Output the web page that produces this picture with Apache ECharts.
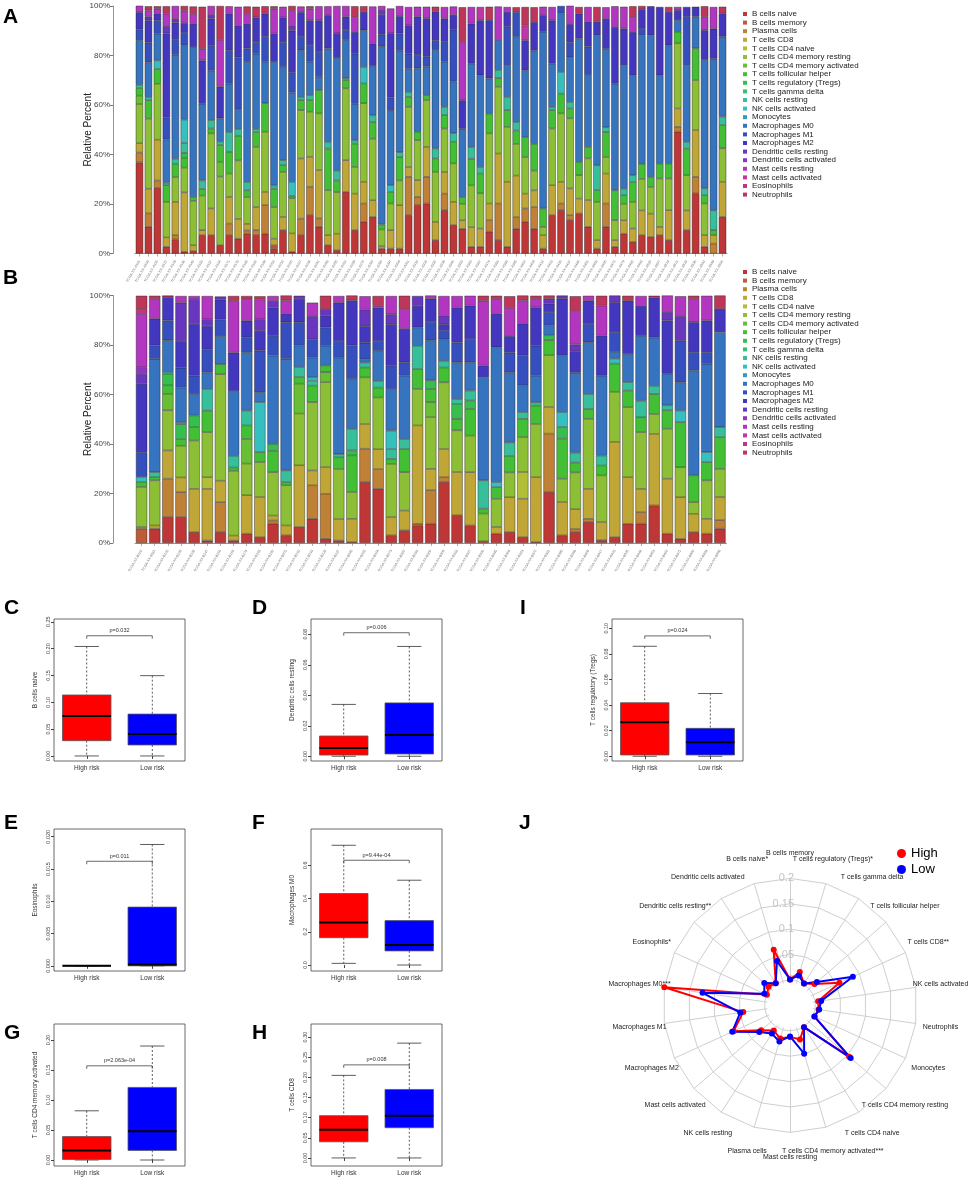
<!DOCTYPE html>
<html><head><meta charset="utf-8">
<script src="https://cdn.jsdelivr.net/npm/echarts@6.0.0/dist/echarts.min.js"></script>
<style>html,body{margin:0;padding:0;background:#fff}#c{width:969px;height:1190px}</style>
</head><body><div id="c"></div>
<script>
// ---------------- DATA ----------------
const cellTypes = ['B cells naive','B cells memory','Plasma cells','T cells CD8','T cells CD4 naive','T cells CD4 memory resting','T cells CD4 memory activated','T cells follicular helper','T cells regulatory (Tregs)','T cells gamma delta','NK cells resting','NK cells activated','Monocytes','Macrophages M0','Macrophages M1','Macrophages M2','Dendritic cells resting','Dendritic cells activated','Mast cells resting','Mast cells activated','Eosinophils','Neutrophils'];

// Panel A (66 samples), relative percent per cell type
const A_Bn = [36.8,10.8,26.5,2.7,5.7,0.7,1,7.4,7.4,3.4, 7.4,6,8,7.4,8,2,9.4,0.7,7.4,15.5, 10.8,3.4,1.3,24.9,9.4,12.8,14.8,2,2,2, 15.5,19.5,20.2,5.4,17.5,11.5,10,2.7,2.7,8.8, 5.4,2.7,10,12.8,10,2,15.5,17.5,13.5,16.2, 10.8,2,10.8,2.7,8,4.7,7.4,6.7,7.4,5.4, 49.2,9.4,24.3,2.7,0,14.8];
const A_Bm = [0,0,0,0,0,0,0,0,0,0, 0,0,0,0,0,1.3,0,0,0,0, 0,0,0,0,0,0,0,0,0,0, 0,0,0,0,0,0,0,0,0,0, 0,0,0,0,0,0,0,0,0,0, 0,0,0,0,0,0,0,0,0,0, 0,0,0,0,0,0];
const A_PC = [4,5.4,3,0,1.7,0,0,0,0,0, 4.7,0,1.3,2,11.5,0,0,0,6.7,11.5, 3.4,0,0,0,0,7.4,0,0,0,0, 15.5,3.4,10.8,0,6.7,0,0,0,0,4.7, 14.8,0,4.7,5.4,8.8,0,0,2.7,2,0, 0,0,9.4,0,0,0,0,0,0,0, 2,0,6.7,0,4,0];
const A_CD8 = [3.8,10,16.5,3.8,13.5,24,2.3,2,10.8,0, 10.8,8,2.7,9.4,5.4,2.7,5.4,7.4,24.3,12.1, 19.5,4,6.7,12.8,14.8,8.8,6.7,1,7.4,17.5, 4,6.7,12.1,7.4,8.8,9.4,3.4,8,7.4,6.7, 20.2,26.3,16.8,6,6.7,5.4,12.1,8.8,10.8,6, 10.8,3.4,12.1,2.7,5.4,5.4,10,9.4,3.4,12.1, 7.4,8,18.9,4.7,3.4,14.2];
const A_CD4n = [0,0,0,0,0,0,0,0,0,0, 0,0,0,0,0,0,0,0,0,0, 0,0,0,0,0,0,0,0,0,0, 0,0,0,0,0,0,0,0,0,0, 0,0,0,0,0,0,0,0,0,0, 0,0,0,0,0,0,0,0,0,0, 0,0,0,0,0,0];
const A_CD4mr = [15.8,28.3,22.6,14.4,10,10,18,14,30.3,27.7, 9.4,23.6,10.8,24.3,24.3,12.8,18.2,14.2,19.5,18.2, 22.9,18.2,16.8,29,10.8,31.7,24.9,6.7,10.8,10, 24.3,16.2,18.9,20.2,17.5,15.5,6.7,16.8,14.2,28.3, 27,22.2,12.8,14.8,8,3.4,22.9,27.6,28.3,9.4, 16.8,15.5,6.7,8,6.7,10.8,12.8,10.8,19.5,12.8, 26.3,14.2,20.2,12.8,0,13.5];
const A_CD4ma = [3.4,0,0,0,0,0,0,0,0,6, 0,0,0,0,0,0,0,0,0,0, 0,0,0,0,0,0,0,0,0,0, 0,0,0,0,0,0,0,0,0,0, 0,0,0,0,0,0,0,0,0,0, 0,0,0,0,0,0,0,0,0,0, 0,0,0,0,0,0];
const A_Tfh = [3.1,7.4,6,6.7,5.4,4,1.5,2.7,2,6.8, 8.8,10,2.7,6,11.5,7.4,2.7,1,4,4.7, 9.4,16.8,4.7,3.4,9.4,8,6.7,2,4.7,9.4, 4,3.4,2,5.4,5.4,8.8,2.7,10.8,8,8, 3.4,6.7,5.4,8,10.8,7.4,7.4,8,4,5.4, 4.7,4.7,10,12.1,3.4,8,6,4,6,6, 4.7,10.8,12.8,3.4,2,9.4];
const A_Treg = [0,0,0,0,0,2,0,0,0,0, 0,0,0,0,0,0,0,0,0,0, 0,0,0,0,0,0,0,0,0,0, 0,0,0,0,0,0,0,0,0,0, 0,0,0,0,0,0,0,0,0,0, 0,0,0,0,0,0,0,0,0,0, 0,0,0,0,0,0];
const A_Tgd = [0,0,0,0,0,0,0,0,0,0, 0,0,0,0,0,0,0,0,0,0, 0,0,0,0,0,0,0,0,0,0, 0,0,0,0,0,0,0,0,0,0, 0,0,0,0,0,0,0,0,0,0, 0,0,0,0,0,0,0,0,0,0, 0,0,0,0,0,0];
const A_NKr = [1.3,1.3,0,1,2,4,0,3.4,3.4,1.3, 8,2.7,3.4,1.3,0,1.3,2,0,1.3,2, 0,2.7,4,0.7,1.3,0,2.7,0,0,2, 2,0,0,4,3.4,3.4,0,4.7,2.7,0, 3.4,5.4,3.4,0,0,0,1.3,0,2.7,0, 0,10,2,0,2.7,2.7,0,0,0,0, 0,2.7,0,2.7,8,3.4];
const A_NKa = [0,0,3.4,0,0,9.4,0,0,0,0, 0,0,0,0,0,0,0,5.7,0,0, 0,0,0,0,0,6.7,0,0,2.7,0, 0,0,0,0,0,0,0,0,0,0, 0,0,0,0,0,0,0,8.8,0,0, 0,0,0,0,0,0,0,0,0,0, 0,0,0,0,0,0];
const A_Mono = [0,0,0,0,0,0,0,0,0,0, 0,0,0,0,0,0,0,0,0,0, 0,0,0,0,0,0,0,0,0,0, 0,0,0,0,0,0,0,0,0,0, 0,0,0,0,0,0,0,0,0,0, 0,0,0,0,0,0,0,0,0,0, 0,0,0,0,0,0];
const A_M0 = [18,14,10.8,17.5,42,30,60.6,31,20,9.4, 19.5,8,48.5,30.3,16.8,49.9,37.7,36,18.9,13.5, 5.4,37.7,45.5,15.5,14.8,14.8,20,72,30,41, 9.4,25.6,11.5,39.8,18.2,20.9,27.6,33.7,37,14.2, 12.1,12.8,34.4,27,37.7,71.4,17.5,23.6,18,49.9, 29,52.6,31.7,43.1,49.9,40.4,52,57.3,35.7,47.8, 4.7,31,12.8,51.9,61.3,32.3];
const A_M1 = [4.3,8,5.4,8.8,6,5,0,0,10,0, 13.5,20.9,5.4,4.7,10,0,10,8,5.4,6.7, 10,0,0,4,20.2,0,0,4.7,5.4,7, 6,5.4,4,4,8,20.9,0,0,0,0, 0,15.5,10,0,0,0,0,3,6,0, 11.5,0,0,0,0,0,2.5,0,0,0, 0,19.5,0,0,0,0];
const A_M2 = [7,9,2.7,34,7,4,9.4,17.5,11,12.8, 14.8,12.8,10,10,9.4,11.5,10,17,10,10, 12.8,13.5,10,5.4,8.8,7.4,9,8,26,7, 11.5,15.5,15.5,11.5,9.4,6,11.5,16.2,22.2,23.6, 0,6,0,12.1,11.5,6.7,17.5,0,7.4,10, 10,5.4,12.1,22.9,14.8,17.5,8,11.7,27.6,13.5, 4,4,4,12,12.1,9.4];
const A_DCr = [0,1.5,0,3,1.5,0,0,0,1.5,0, 0,0,0,0,0,0,0,2,0,0, 0,0,0,0,0,0,0,2,0,0, 0,0,0,0,0,0,0,0,0,0, 0,0,0,0,0,0,0,0,0,0, 0,0,0,0,0,0,0,0,0,0, 0,0,0,0,0,0];
const A_DCa = [0,0,0,0,0,0,0,0,0,0, 0,0,0,0,0,0,0,0,0,0, 0,0,0,0,0,0,0,0,0,0, 0,0,0,0,0,0,0,0,0,0, 0,0,0,0,0,0,0,0,0,0, 0,0,0,0,0,0,0,0,0,0, 0,0,0,0,0,0];
const A_MastR = [2.7,2.5,2,5,5.2,5,4,4.7,3.6,18.9, 3,7.7,4,0,0,10,4.3,6,2.3,4.7, 5.7,3.6,11,4.3,6,0,15,1.6,10,4.1, 7.4,4,4.7,0,4.7,3.4,23.6,6.7,0,0, 13.5,2,0,0,0,3.4,5.4,0,7.4,0, 6,0,4.7,8.4,8.8,6,0,0,0,0, 1.3,0,0,5.4,8.8,0];
const A_MastA = [0,0,0,0,0,0,0,0,0,0, 0,0,0,0,0,0,0,0,0,0, 0,0,0,0,0,0,0,0,0,0, 0,0,0,0,0,0,0,0,5.4,0, 0,0,0,6,0,0,0,0,0,0, 0,0,0,0,0,0,0,0,0,0, 0,0,0,0,0,0];
const A_Eos = [0,0,0,0,0,0,0,0,0,0, 0,0,0,0,0,0,0,0,0,0, 0,0,0,0,0,0,0,0,0,0, 0,0,0,0,0,0,0,0,0,0, 0,0,0,0,0,0,0,0,0,0, 0,0,0,0,0,0,0,0,0,0, 0,0,0,0,0,0];
const A_Neut = [0,1.7,1,3,0,1.9,3,17,0,13.7, 0,0,3,4.3,3,1,0,2,0,1, 0,0,0,0,4.4,2.3,0,0,0,0, 0,0,0,2,0,0,14,0,0,5.4, 0,0,2,7.5,6,0,0,0,0,2.7, 0,6,0,0,0,4.4,1.3,0,0,2, 0,0,0,4.3,0,2.7];

// Panel B (45 samples)
const B_Bn = [0,5.8,10.5,10.5,4.4,1,4.4,1,3.8,2.4, 7.8,3.1,6.5,9.8,1.7,1,0.4,24.6,21.9,3.1, 5.1,7.1,7.8,24.6,11.2,7.1,0.7,3.8,4.4,2.4, 0.4,20.6,3.1,4.4,8.5,1.1,2.4,7.8,7.8,15.2, 3.8,1.7,4.4,3.8,5.8];
const B_Bm = [5.8,0,0,0,0,0,0,0,0,0, 0,0,0,0,0,0,0,0,0,0, 0,0,0,0,0,0,0,0,0,0, 0,0,0,0,0,0,0,0,0,0, 0,0,0,0,0];
const B_PC = [0,0,15.5,10,0,0,12.1,0,0,0, 1.3,0,0,13.5,18.2,0,0,13.5,8,0, 0,0.7,13.5,2,0,0,0,0,0,0, 0,23.6,0,1.3,1.3,0,0,0,4.7,0, 0,0,0,0,3.4];
const B_CD8 = [0.7,1.3,11.4,6,17.5,20.9,8.7,2,15.5,16.2, 2,4,24.9,6,10.8,8.7,9.4,10,8,7.4, 8,39.7,8.7,11.4,17.5,21.5,0,2.7,14.1,15.5, 26.2,10.8,13.5,8,12.1,7.4,38.5,18.8,9.4,28.9, 22.2,16.8,7.4,6,9.4];
const B_CD4n = [0,0,0,0,0,4.7,0,0,0,0, 0,0,0,0,0,0,0,0,0,0, 0,0,0,0,0,0,0,0,0,10.8, 0,0,0,0,0,0,0,0,0,0, 0,0,0,0,0];
const B_CD4mr = [16.2,18.2,16.2,12.8,19.5,18.2,43,26.2,12.8,14.1, 17.5,16.2,20.9,27.6,34.3,20.2,10.8,18.8,20.9,21.5, 15.5,14.8,20.9,26.9,16.8,14.8,11.2,11.4,10,14.1, 21.5,20.9,9.4,14.8,28.3,18.8,20.2,28.3,22.9,8, 20.2,12.1,4.7,15.5,11.4];
const B_CD4ma = [0,0,6.7,0,0,0,0,0,10,0, 0,0,12.1,0,4,0,0,0,0,0, 0,0,6,0,0,0,0,0,0,0, 0,0,0,0,0,0,0,0,0,0, 0,0,0,0,0];
const B_Tfh = [2,1.3,3.4,2.7,5.4,8.7,4,1.3,5.4,4, 8.7,1.3,2.7,6.7,2.7,4.7,14.8,4,4,2, 9.4,8,5.4,6,4.7,10.8,2,4.7,6.7,7.4, 7.4,6,16.2,4,4,4,11.4,6.7,6,8, 7.4,18.2,10.8,7.4,12.8];
const B_Treg = [0,0,4.7,6,4.7,0,0,0,0,0, 2.7,0,0,0,0,0,2,0,0,0, 0,0,3.4,0,6,3.4,0,0,0,0, 0,2,4.7,0,0,0,0,0,0,0, 0,0,0,0,0];
const B_Tgd = [0,0,0,0,0,0,0,0,0,0, 0,0,0,0,0,0,0,0,0,0, 0,0,0,0,0,0,0,0,0,0, 0,0,0,0,0,0,0,0,0,0, 0,0,0,0,0];
const B_NKr = [0,2,0,0,0,8.7,0,4.7,6,0, 0,4.7,4,2,0,1.3,8.7,2,2.7,4, 4,9.4,0,2.7,2,4,11.4,0,5.4,2.7, 1.3,0,0,4,6,4,0,3.4,6.7,3.4, 2,0,0,0,4];
const B_NKa = [2,0,0.7,0.7,0,0,0,0,0,20.2, 0,0,0,1.3,0,0,0,0,0,7.4, 0,0,0,0,0,0,0,2,0,0, 0,0,6,0,0,0,2,0,0,0, 0,4.7,0,4,0];
const B_Mono = [0,0,0,0,0,0,0,0,0,0, 0,0,0,0,0,0,0,0,0,0, 0,0,0,0,0,0,0,0,0,0, 0,0,0,0,0,0,0,0,0,0, 0,0,0,0,0];
const B_M0 = [0,45.8,12.8,14.1,8.7,6.7,11.4,26.2,23.6,4, 35.7,45.1,8.7,8,8,39,20.2,1.3,12.1,16.8, 25.6,7.4,16.2,8.7,14.8,11.4,41.7,54.5,28.3,10.8, 10.8,4,22.9,32.3,20.9,32.3,2.7,11.4,26.2,19.5, 12.8,11.4,42.4,35.7,38.4];
const B_M1 = [10,5.4,8,8,7.4,9.4,6.7,0,6,16.8, 8,14.8,9.4,7.4,7.4,6.7,13.5,6.7,4,9.4, 5.4,0,7.4,3.4,8,9.4,0,0,8,12.1, 12.1,5.4,0,0,7.4,0,8,0,0,0, 0,16.8,7.4,4.7,0];
const B_M2 = [27.6,10.8,9.4,10.8,20.9,9.4,8,15.5,6.7,8, 11.4,3.4,9.4,0,4.7,15.5,18.2,6.7,13.5,16.8, 13.5,8.7,9.4,2.7,14.1,13.5,4.7,13.5,6.7,12.8, 15.5,3.4,22.9,8.7,9.4,16.2,12.1,21.5,12.1,16.2, 21.5,0,12.1,12.8,9.4];
const B_DCr = [4,0,0,15.5,10,2.7,1.3,0,0,4.7, 2.7,0,1.3,9.4,2.7,0,0,6.7,0,4, 0,4,0,3.4,0,0,0,0,0,0, 0,2,1.3,2.7,0,0,2.7,0,0,0, 3.4,10,0,0,0];
const B_DCa = [2.7,0,0,0,0,0,0,0,0,0, 0,0,0,0,0,0,0,0,0,0, 0,0,0,0,0,0,0,0,0,0, 0,0,0,0,0,0,0,0,0,0, 0,0,0,0,0];
const B_MastR = [21.5,8,0,2.7,1.3,9.4,0,20.9,8.7,8, 2,5.4,0,5.4,0,2.7,0,5.4,0.7,7.4, 8,0,1.3,8,4.7,4,26.2,6,11.4,9.4, 3.4,0,0,13.5,2,12.1,0,0,4,0, 6.7,8,9.4,10,0];
const B_MastA = [0,0,0,0,0,0,0,0,0,0, 0,0,0,0,0,0,0,0,0,0, 0,0,0,0,0,0,0,0,0,0, 0,0,0,0,0,0,0,0,0,0, 0,0,0,0,0];
const B_Eos = [2,0,0,0,0,0,0,0,0,0, 0,0,0,0,0,0,0,0,0,0, 0,0,0,0,0,0,0,0,0,0, 0,0,0,0,0,0,0,0,0,0, 0,0,0,0,0];
const B_Neut = [5.4,1.3,0.7,0,0,0,0,2,1.3,1.3, 0,2,0,0,5.4,0,2,0,4,0, 5.4,0,0,0,0,0,2,1.3,4.7,2, 1.3,1.3,0,6,0,4,0,2,0,0.7, 0,0,1.3,0,5.4];

const percentTicks = [0, 20, 40, 60, 80, 100];

// Box plots: [min, Q1, median, Q3, max] for High risk / Low risk
const riskGroups = ['High risk', 'Low risk'];
const cHigh = [0, 0.0285, 0.0745, 0.1136, 0.204], cLow = [0, 0.0205, 0.041, 0.078, 0.1496];
const dHigh = [0, 0.0008, 0.0054, 0.0133, 0.034], dLow = [0, 0.0015, 0.014, 0.035, 0.072];
const iHigh = [0, 0.001, 0.0265, 0.0418, 0.0859], iLow = [0, 0.001, 0.011, 0.0218, 0.049];
const eHigh = [0, 0, 0, 0, 0], eLow = [0, 0, 0.0002, 0.0091, 0.0188];
const fHigh = [0.01, 0.164, 0.255, 0.43, 0.72], fLow = [0, 0.085, 0.121, 0.267, 0.51];
const gHigh = [0, 0.001, 0.016, 0.039, 0.082], gLow = [0, 0.016, 0.048, 0.121, 0.19];
const hHigh = [0, 0.04, 0.07, 0.105, 0.205], hLow = [0, 0.075, 0.105, 0.17, 0.285];
const cTicks = [0, 0.05, 0.10, 0.15, 0.20, 0.25];
const dTicks = [0, 0.02, 0.04, 0.06, 0.08];
const iTicks = [0, 0.02, 0.04, 0.06, 0.08, 0.10];
const eTicks = [0, 0.005, 0.010, 0.015, 0.020];
const fTicks = [0, 0.2, 0.4, 0.6];
const gTicks = [0, 0.05, 0.10, 0.15, 0.20];
const hTicks = [0, 0.05, 0.10, 0.15, 0.20, 0.25, 0.30];
const pLabels = ['p=0.032', 'p=0.006', 'p=0.024', 'p=0.011', 'p=9.44e-04', 'p=2.063e-04', 'p=0.008'];
const bracketLevels = [0.224, 0.081, 0.094, 0.0162, 0.63, 0.157, 0.231];
const boxTitles = ['B cells naive', 'Dendritic cells resting', 'T cells regulatory (Tregs)', 'Eosinophils', 'Macrophages M0', 'T cells CD4 memory activated', 'T cells CD8'];

// Radar (counter-clockwise from top)
const radarNames = ['B cells memory','B cells naive*','Dendritic cells activated','Dendritic cells resting**','Eosinophils*','Macrophages M0***','Macrophages M1','Macrophages M2','Mast cells activated','NK cells resting','Plasma cells','Mast cells resting','T cells CD4 memory activated***','T cells CD4 naive','T cells CD4 memory resting','Monocytes','Neutrophils','NK cells activated','T cells CD8**','T cells follicular helper','T cells gamma delta','T cells regulatory (Tregs)*'];
const radarHigh = [0.001,0.064,0.002,0.006,0.0,0.2,0.043,0.072,0.025,0.009,0.018,0.012,0.020,0.001,0.104,0.003,0.007,0.006,0.057,0.014,0.001,0.0185];
const radarLow  = [0.001,0.041,0.002,0.017,0.0055,0.124,0.049,0.075,0.030,0.016,0.024,0.011,0.049,0.001,0.108,0.003,0.008,0.012,0.086,0.020,0.001,0.0115];

// ---------------- STYLE / LAYOUT ----------------
const FONT = '"Liberation Sans", Arial, Helvetica, sans-serif';
const palette = ['#BF3636','#BF5B36','#BF8136','#BFA636','#B2BF36','#8DBF36','#68BF36','#43BF36','#36BF4F','#36BF74','#36BF9A','#36BFBF','#369ABF','#3674BF','#364FBF','#4336BF','#6836BF','#8D36BF','#B236BF','#BF36A6','#BF3681','#BF365B'];
const seriesA = [A_Bn,A_Bm,A_PC,A_CD8,A_CD4n,A_CD4mr,A_CD4ma,A_Tfh,A_Treg,A_Tgd,A_NKr,A_NKa,A_Mono,A_M0,A_M1,A_M2,A_DCr,A_DCa,A_MastR,A_MastA,A_Eos,A_Neut];
const seriesB = [B_Bn,B_Bm,B_PC,B_CD8,B_CD4n,B_CD4mr,B_CD4ma,B_Tfh,B_Treg,B_Tgd,B_NKr,B_NKa,B_Mono,B_M0,B_M1,B_M2,B_DCr,B_DCa,B_MastR,B_MastA,B_Eos,B_Neut];
const samplesA = A_Bn.map((_, i) => 'TCGA-XX-A' + String(101 + i * 7));
const samplesB = B_Bn.map((_, i) => 'TCGA-XX-B' + String(102 + i * 9));

const grids = [], xAxes = [], yAxes = [], series = [];

function stackPanel(gi, arrs, samples, rect, gap) {
  grids.push({left: rect[0], top: rect[1], width: rect[2], height: rect[3]});
  xAxes.push({gridIndex: gi, type: 'category', data: samples, offset: 4,
    axisLine: {show: true, lineStyle: {color: '#777', width: 0.8}},
    axisTick: {show: true, alignWithLabel: true, length: 3, lineStyle: {color: '#777', width: 0.6}},
    axisLabel: {interval: 0, rotate: 60, fontSize: 3.5, color: '#777', margin: 3, fontFamily: FONT}});
  yAxes.push({gridIndex: gi, type: 'value', min: 0, max: 100, offset: 22,
    axisLine: {show: true, lineStyle: {color: '#777', width: 0.8}},
    axisTick: {show: true, length: 3, customValues: percentTicks, lineStyle: {color: '#777'}},
    axisLabel: {customValues: percentTicks, formatter: '{value}%', fontSize: 8, color: '#444', margin: 3, fontFamily: FONT},
    splitLine: {show: false},
    name: 'Relative Percent', nameLocation: 'middle', nameGap: 20, nameMoveOverlap: false,
    nameTextStyle: {fontSize: 10, color: '#222', fontFamily: FONT}});
  cellTypes.forEach((name, k) => {
    series.push({type: 'bar', name, xAxisIndex: gi, yAxisIndex: gi, stack: 'S' + gi,
      barCategoryGap: gap, data: arrs[k].map(v => v === 0 ? '-' : v),
      itemStyle: {color: palette[k], borderColor: 'rgba(35,35,35,0.85)', borderWidth: 0.5},
      emphasis: {disabled: true}, silent: true});
  });
}
stackPanel(0, seriesA, samplesA, [135, 6, 592, 247.5], '17%');
stackPanel(1, seriesB, samplesB, [135, 295.5, 591.5, 247.5], '14%');

const boxPanels = [
  {high: cHigh, low: cLow, ticks: cTicks, dec: 2, rect: [54, 619], yr: [-0.0094, 0.2552]},
  {high: dHigh, low: dLow, ticks: dTicks, dec: 2, rect: [311, 619], yr: [-0.0031, 0.0900]},
  {high: iHigh, low: iLow, ticks: iTicks, dec: 2, rect: [612, 619], yr: [-0.0037, 0.1072]},
  {high: eHigh, low: eLow, ticks: eTicks, dec: 3, rect: [54, 829], yr: [-0.0008, 0.0212]},
  {high: fHigh, low: fLow, ticks: fTicks, dec: 1, rect: [311, 829], yr: [-0.036, 0.818]},
  {high: gHigh, low: gLow, ticks: gTicks, dec: 2, rect: [54, 1024], yr: [-0.01, 0.2267]},
  {high: hHigh, low: hLow, ticks: hTicks, dec: 2, rect: [311, 1024], yr: [-0.02, 0.3325]}
];
const boxColors = ['#FF0000', '#0000FF'];

function boxRender(params, api) {
  const x = api.value(0);
  const lo = api.coord([x, api.value(1)]), q1 = api.coord([x, api.value(2)]);
  const md = api.coord([x, api.value(3)]), q3 = api.coord([x, api.value(4)]);
  const hi = api.coord([x, api.value(5)]);
  const bw = api.size([1, 0])[0] * 0.74, cx = lo[0];
  const ln = {stroke: '#333', lineWidth: 0.8};
  const dash = {stroke: '#333', lineWidth: 0.8, lineDash: [2, 2]};
  return {type: 'group', children: [
    {type: 'line', shape: {x1: cx, y1: hi[1], x2: cx, y2: q3[1]}, style: dash},
    {type: 'line', shape: {x1: cx, y1: q1[1], x2: cx, y2: lo[1]}, style: dash},
    {type: 'line', shape: {x1: cx - bw / 4, y1: hi[1], x2: cx + bw / 4, y2: hi[1]}, style: ln},
    {type: 'line', shape: {x1: cx - bw / 4, y1: lo[1], x2: cx + bw / 4, y2: lo[1]}, style: ln},
    {type: 'rect', shape: {x: cx - bw / 2, y: q3[1], width: bw, height: Math.max(q1[1] - q3[1], 0.01)},
      style: {fill: boxColors[params.dataIndex], stroke: '#555', lineWidth: 0.8}},
    {type: 'line', shape: {x1: cx - bw / 2, y1: md[1], x2: cx + bw / 2, y2: md[1]}, style: {stroke: '#000', lineWidth: 2}}
  ]};
}

boxPanels.forEach((p, j) => {
  const gi = j + 2;
  grids.push({left: p.rect[0], top: p.rect[1], width: 131, height: 142, show: true, borderColor: '#444', borderWidth: 0.8});
  xAxes.push({gridIndex: gi, type: 'category', data: riskGroups,
    axisLine: {show: false}, axisTick: {show: true, alignWithLabel: true, length: 3, lineStyle: {color: '#444'}},
    axisLabel: {fontSize: 6.5, color: '#333', margin: 4, fontFamily: FONT}});
  yAxes.push({gridIndex: gi, type: 'value', min: p.yr[0], max: p.yr[1],
    axisLine: {show: false}, splitLine: {show: false},
    axisTick: {show: true, length: 3, customValues: p.ticks, lineStyle: {color: '#444'}},
    axisLabel: {customValues: p.ticks, rotate: 90, fontSize: 5.5, color: '#444', margin: 3, fontFamily: FONT,
      formatter: v => Number(v).toFixed(p.dec)},
    name: boxTitles[j], nameLocation: 'middle', nameGap: 15,
    nameTextStyle: {fontSize: 6.5, color: '#333', fontFamily: FONT}});
  series.push({type: 'custom', xAxisIndex: gi, yAxisIndex: gi, renderItem: boxRender, silent: true,
    data: [[0].concat(p.high), [1].concat(p.low)]});
  series.push({type: 'custom', xAxisIndex: gi, yAxisIndex: gi, silent: true,
    data: [[0, bracketLevels[j]]],
    renderItem: (params, api) => {
      const a = api.coord([0, api.value(1)]), b = api.coord([1, api.value(1)]);
      return {type: 'group', children: [
        {type: 'polyline', shape: {points: [[a[0], a[1] + 3], [a[0], a[1]], [b[0], a[1]], [b[0], a[1] + 3]]},
          style: {stroke: '#444', lineWidth: 0.8, fill: null}},
        {type: 'text', style: {text: pLabels[j], x: (a[0] + b[0]) / 2, y: a[1] - 2, align: 'center', verticalAlign: 'bottom',
          fontSize: 5.5, fill: '#333', fontFamily: FONT}}
      ]};
    }});
});

// radar
const RC = [790, 1005.4], RR = 127;
series.push({type: 'radar', radarIndex: 0, symbol: 'circle', symbolSize: 6, silent: true, z: 3,
  data: [
    {name: 'High', value: radarHigh, lineStyle: {color: '#FF0000', width: 2}, itemStyle: {color: '#FF0000'}},
    {name: 'Low', value: radarLow, lineStyle: {color: '#0000FF', width: 2}, itemStyle: {color: '#0000FF'}}
  ]});

const letters = [['A', 3, 7], ['B', 3, 268], ['C', 4, 598], ['D', 252, 598], ['I', 520, 598], ['E', 4, 813], ['F', 252, 813], ['J', 519, 813], ['G', 4, 1023], ['H', 252, 1023]];

const legendBase = {orient: 'vertical', left: 743, icon: 'rect', itemWidth: 4, itemHeight: 4, itemGap: 0.6,
  selectedMode: false, padding: 0, itemStyle: {borderWidth: 0, borderColor: 'transparent'},
  textStyle: {fontSize: 8, lineHeight: 8, color: '#222', fontFamily: FONT}};

const option = {
  animation: false,
  backgroundColor: '#fff',
  textStyle: {fontFamily: FONT},
  grid: grids, xAxis: xAxes, yAxis: yAxes,
  legend: [
    Object.assign({}, legendBase, {top: 10, data: cellTypes.map((n, k) => ({name: n, itemStyle: {color: palette[k], borderWidth: 0}}))}),
    Object.assign({}, legendBase, {top: 268, data: cellTypes.map((n, k) => ({name: n, itemStyle: {color: palette[k], borderWidth: 0}}))}),
    {data: ['High', 'Low'], orient: 'vertical', left: 897, top: 847, icon: 'circle', itemWidth: 9, itemHeight: 9, itemGap: 3,
      selectedMode: false, textStyle: {fontSize: 13, color: '#000', fontFamily: FONT}, padding: 0}
  ],
  radar: {
    center: RC, radius: RR, startAngle: 90, splitNumber: 5, shape: 'polygon', z: 0,
    indicator: radarNames.map((n, i) => i === 0
      ? {name: n, min: -0.05, max: 0.2, axisLabel: {show: true}}
      : {name: n, min: -0.05, max: 0.2}),
    nameGap: 25,
    axisName: {color: '#222', fontSize: 7, fontFamily: FONT, align: 'center', verticalAlign: 'middle'},
    splitLine: {lineStyle: {color: '#cfcfcf', width: 1}},
    splitArea: {show: false},
    axisLine: {lineStyle: {color: '#cfcfcf', width: 1}},
    axisTick: {show: false},
    axisLabel: {show: false, color: '#c4c4c4', fontSize: 11, fontFamily: FONT, margin: -4,
      formatter: v => (v < -1e-6 ? '' : String(+Number(v).toFixed(2)))}
  },
  graphic: [
    {type: 'circle', shape: {cx: RC[0], cy: RC[1], r: 23}, style: {fill: '#fff'}, z: 1, silent: true}
  ].concat(letters.map(l => ({type: 'text', left: l[1], top: l[2], z: 10, silent: true,
    style: {text: l[0], fontSize: 21, fontWeight: 'bold', fill: '#000', fontFamily: FONT}}))),
  series
};

const chart = echarts.init(document.getElementById('c'), null, {renderer: 'canvas'});
chart.setOption(option);
</script></body></html>
